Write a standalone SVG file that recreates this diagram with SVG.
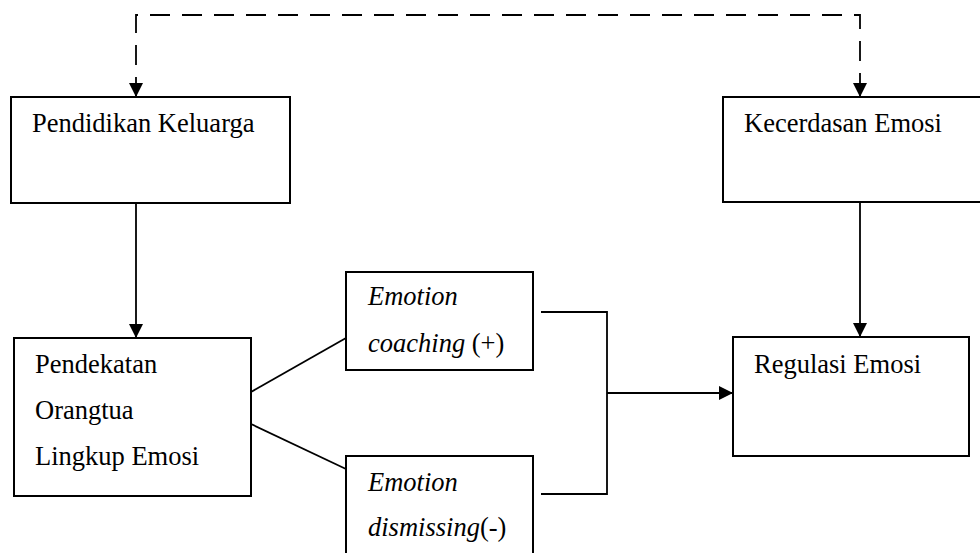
<svg xmlns="http://www.w3.org/2000/svg" width="980" height="553" viewBox="0 0 980 553">
<style>
.box{fill:#fff;stroke:#000;stroke-width:2}
.ln{fill:none;stroke:#000;stroke-width:1.8}
.dash{fill:none;stroke:#000;stroke-width:1.8;stroke-dasharray:20 12}
.t{font-family:"Times New Roman",Tinos,"Liberation Serif","DejaVu Serif",serif;font-size:26.5px;fill:#000}
.it{font-style:italic}
</style>
<defs>
<marker id="ah" markerWidth="14" markerHeight="14" refX="14" refY="7" orient="auto" markerUnits="userSpaceOnUse">
<path d="M0,0 L14,7 L0,14 Z" fill="#000"/>
</marker>
</defs>
<g id="connectors">
<path class="dash" d="M136,97 V15 H860 V97" />
<path class="ln" d="M136,84 V97" marker-end="url(#ah)"/>
<path class="ln" d="M860,84 V97" marker-end="url(#ah)"/>
<path class="ln" d="M136,203 V338" marker-end="url(#ah)"/>
<path class="ln" d="M860,202 V337" marker-end="url(#ah)"/>
<path class="ln" d="M251,392 L346,338"/>
<path class="ln" d="M251,424 L346,469"/>
<path class="ln" d="M541,312 H607 V494 H541"/>
<path class="ln" d="M607,393 H733" marker-end="url(#ah)"/>
</g>
<g id="pendidikan">
<rect class="box" x="11" y="97" width="279" height="106"/>
<text class="t" x="32" y="132">Pendidikan Keluarga</text>
</g>
<g id="kecerdasan">
<rect class="box" x="723" y="97" width="270" height="105"/>
<text class="t" x="744" y="132">Kecerdasan Emosi</text>
</g>
<g id="pendekatan">
<rect class="box" x="14" y="338" width="237" height="158"/>
<text class="t" x="35" y="373">Pendekatan</text>
<text class="t" x="35" y="419">Orangtua</text>
<text class="t" x="35" y="465">Lingkup Emosi</text>
</g>
<g id="coaching">
<rect class="box" x="346" y="272" width="187" height="98"/>
<text class="t it" x="368" y="305">Emotion</text>
<text class="t" x="368" y="352"><tspan class="it">coaching</tspan> (+)</text>
</g>
<g id="dismissing">
<rect class="box" x="346" y="456" width="187" height="110"/>
<text class="t it" x="368" y="491">Emotion</text>
<text class="t" x="368" y="536"><tspan class="it">dismissing</tspan>(-)</text>
</g>
<g id="regulasi">
<rect class="box" x="733" y="337" width="236" height="119"/>
<text class="t" x="754" y="373">Regulasi Emosi</text>
</g>
</svg>
